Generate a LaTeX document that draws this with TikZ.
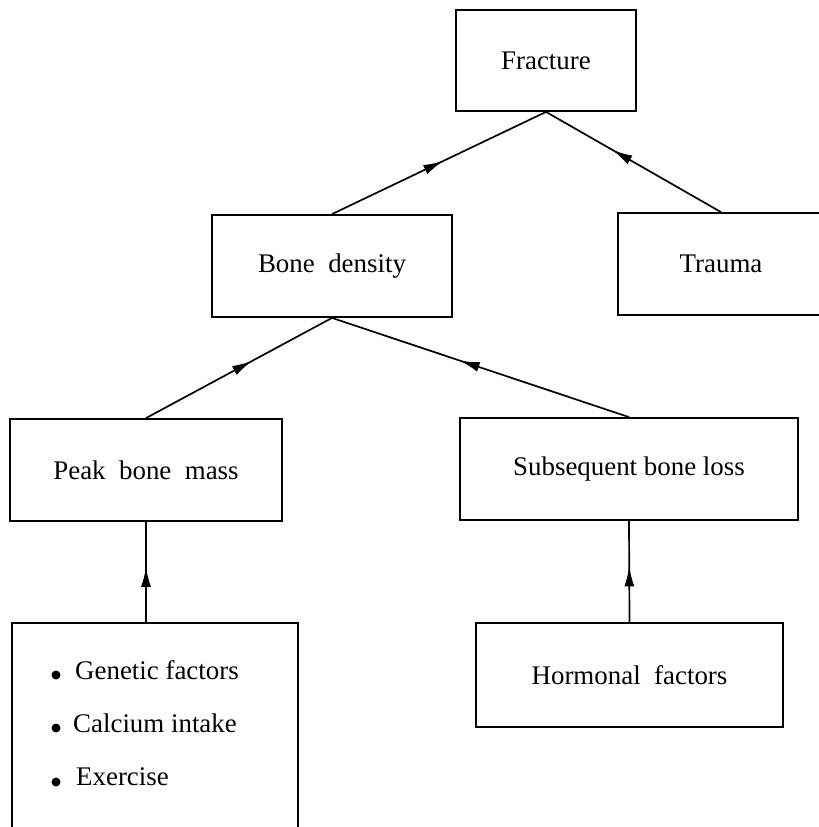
\documentclass[tikz,border=0pt]{standalone}
\usepackage{fontspec}
\setmainfont{Liberation Serif}
\usetikzlibrary{arrows.meta,decorations.markings}
\tikzset{
  boxnode/.style={draw, line width=1.8bp, rectangle, inner sep=0pt, font=\fontsize{27}{30}\selectfont},
  itemnode/.style={anchor=west, inner sep=0pt, font=\fontsize{27}{30}\selectfont},
  bulletdot/.style={circle, fill, inner sep=0pt, minimum size=9bp},
  conn/.style={line width=1.7bp, postaction={decorate}, decoration={markings, mark=at position #1 with {\arrow{Latex[length=20bp,width=10bp]}}}},
}
\begin{document}
\begin{tikzpicture}[x=1bp,y=-1bp]
\useasboundingbox (0,0) rectangle (819,827);
\clip (0,0) rectangle (819,827);
\node[boxnode, minimum width=180bp, minimum height=101bp] (frac) at (546,60.5) {Fracture};
\node[boxnode, minimum width=240bp, minimum height=102bp] (bone) at (332,266) {Bone\ \ density};
\node[boxnode, minimum width=206bp, minimum height=102bp] (trauma) at (721,264) {Trauma};
\node[boxnode, minimum width=272bp, minimum height=102bp] (peak) at (146,470) {Peak\ \ bone\ \ mass};
\node[boxnode, minimum width=338bp, minimum height=102bp] (subs) at (629,469) {Subsequent bone loss};
\node[boxnode, minimum width=286bp, minimum height=260bp] (bul) at (155,753) {};
\node[boxnode, minimum width=307bp, minimum height=104bp] (horm) at (629.5,675) {Hormonal\ \ factors};
\node[bulletdot] (d1) at (56,675) {};
\node[bulletdot] (d2) at (56,728) {};
\node[bulletdot] (d3) at (56,782) {};
\node[itemnode] (i1) at (75,670) {Genetic factors};
\node[itemnode] (i2) at (73,723) {Calcium intake};
\node[itemnode] (i3) at (76,777) {Exercise};
\draw[conn=0.52] (bone.north) -- (frac.south);
\draw[conn=0.62] (trauma.north) -- (frac.south);
\draw[conn=0.57] (peak.north) -- (bone.south);
\draw[conn=0.57] (subs.north) -- (bone.south);
\draw[conn=0.55] (peak.south |- bul.north) -- (peak.south);
\draw[conn=0.55] (horm.north) -- (subs.south);
\end{tikzpicture}
\end{document}
